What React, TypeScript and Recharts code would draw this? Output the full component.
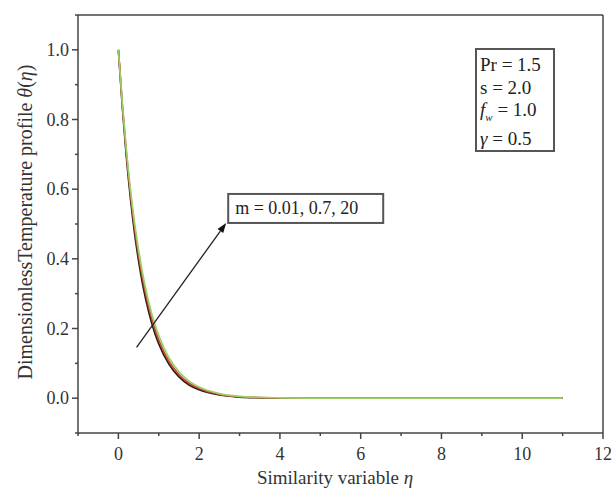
import { LineChart, Line, XAxis, YAxis, ReferenceLine, ReferenceDot } from "recharts";

// similarity variable eta and temperature profiles for m = 0.01, 0.7, 20
const ETA = [0, 0.1, 0.2, 0.3, 0.4, 0.5, 0.6, 0.75, 0.9, 1.0, 1.25, 1.5, 1.75, 2.0, 2.5, 3.0, 3.5, 4.0, 5, 6, 7, 8, 9, 10, 11];
const THETA_M001 = [1, 0.832, 0.69, 0.572, 0.474, 0.394, 0.327, 0.248, 0.187, 0.156, 0.098, 0.061, 0.038, 0.024, 0.009, 0.003, 0.001, 0, 0, 0, 0, 0, 0, 0, 0];
const THETA_M07 = [1, 0.838, 0.7, 0.586, 0.49, 0.41, 0.343, 0.262, 0.2, 0.167, 0.106, 0.068, 0.043, 0.028, 0.011, 0.004, 0.0015, 0.0005, 0, 0, 0, 0, 0, 0, 0];
const THETA_M20 = [1, 0.844, 0.71, 0.598, 0.504, 0.425, 0.358, 0.276, 0.213, 0.18, 0.116, 0.076, 0.049, 0.032, 0.013, 0.005, 0.002, 0.001, 0, 0, 0, 0, 0, 0, 0];

const X_TICKS = [-1, 0, 1, 2, 3, 4, 5, 6, 7, 8, 9, 10, 11, 12];
const Y_TICKS = [-0.1, 0, 0.1, 0.2, 0.3, 0.4, 0.5, 0.6, 0.7, 0.8, 0.9, 1.0, 1.1];

const ARROW_FROM = { x: 0.45, y: 0.146 };
const ARROW_TO = { x: 2.67, y: 0.503 };

const data = ETA.map((eta, i) => ({
  eta,
  a: THETA_M001[i],
  b: THETA_M07[i],
  c: THETA_M20[i],
}));

const FONT = "'Liberation Serif', 'Times New Roman', serif";
const AXIS = "#444";

const XTick = (props: any) => {
  const { x, y, payload } = props;
  const v = payload.value;
  const major = v % 2 === 0;
  return (
    <g>
      <line x1={x} y1={y} x2={x} y2={y + (major ? 6 : 3)} stroke={AXIS} strokeWidth={1.5} />
      {major && v >= 0 && (
        <text x={x} y={y + 27} textAnchor="middle" fontSize={18} style={{ fontFamily: FONT }} fill="#333">
          {v}
        </text>
      )}
    </g>
  );
};

const YTick = (props: any) => {
  const { x, y, payload } = props;
  const v = Math.round(payload.value * 10);
  const major = v % 2 === 0;
  return (
    <g>
      <line x1={x - (major ? 6 : 3)} y1={y} x2={x} y2={y} stroke={AXIS} strokeWidth={1.5} />
      {major && v >= 0 && v <= 10 && (
        <text x={x - 9} y={y + 6} textAnchor="end" fontSize={18} style={{ fontFamily: FONT }} fill="#333">
          {(v / 10).toFixed(1)}
        </text>
      )}
    </g>
  );
};

const Arrow = (props: any) => {
  const { x1, y1, x2, y2 } = props;
  const ang = Math.atan2(y2 - y1, x2 - x1);
  const len = 10;
  const w = 3.5;
  const bx = x2 - len * Math.cos(ang);
  const by = y2 - len * Math.sin(ang);
  const px = -Math.sin(ang) * w;
  const py = Math.cos(ang) * w;
  return (
    <g>
      <line x1={x1} y1={y1} x2={bx} y2={by} stroke="#222" strokeWidth={1.3} />
      <polygon points={`${x2},${y2} ${bx + px},${by + py} ${bx - px},${by - py}`} fill="#111" />
    </g>
  );
};

const MBox = (props: any) => {
  const { cx, cy } = props;
  return (
    <g>
      <rect x={cx + 2} y={cy - 29} width={155} height={29} fill="#fff" stroke="#555" strokeWidth={2} />
      <text x={cx + 9} y={cy - 9} fontSize={18} style={{ fontFamily: FONT }} fill="#222">
        m = 0.01, 0.7, 20
      </text>
    </g>
  );
};

export default function App() {
  return (
    <div style={{ position: "absolute", left: 0, top: 0, width: 613, height: 488, background: "#fff" }}>
      <LineChart width={613} height={488} data={data} margin={{ top: 15, right: 10, bottom: 0, left: 18 }}>
        <XAxis
          dataKey="eta"
          type="number"
          domain={[-1, 12]}
          ticks={X_TICKS}
          interval={0}
          height={55}
          tickSize={0}
          tickMargin={0}
          tick={<XTick />}
          axisLine={{ stroke: AXIS, strokeWidth: 1.5 }}
          tickLine={false}
        />
        <YAxis
          type="number"
          domain={[-0.1, 1.1]}
          ticks={Y_TICKS}
          interval={0}
          width={60}
          tickSize={0}
          tickMargin={0}
          tick={<YTick />}
          axisLine={{ stroke: AXIS, strokeWidth: 1.5 }}
          tickLine={false}
          allowDataOverflow
        />
        <ReferenceLine y={1.1} stroke={AXIS} strokeWidth={1.5} />
        <ReferenceLine x={12} stroke={AXIS} strokeWidth={1.5} />
        <Line type="monotone" dataKey="a" stroke="#2b1a12" strokeWidth={1.7} dot={false} isAnimationActive={false} />
        <Line type="monotone" dataKey="b" stroke="#c8453a" strokeWidth={1.7} dot={false} isAnimationActive={false} />
        <Line type="monotone" dataKey="c" stroke="#9ad066" strokeWidth={1.7} dot={false} isAnimationActive={false} />
        <ReferenceLine
          segment={[ARROW_FROM, ARROW_TO]}
          shape={<Arrow />}
          ifOverflow="visible"
        />
        <ReferenceDot x={ARROW_TO.x} y={ARROW_TO.y} r={0} shape={<MBox />} ifOverflow="visible" />
        <text
          x={25}
          y={222}
          transform="rotate(-90 25 222)"
          textAnchor="middle"
          dominantBaseline="central"
          fontSize={20}
          style={{ fontFamily: FONT }}
          fill="#333"
        >
          DimensionlessTemperature profile <tspan fontStyle="italic">θ</tspan>(<tspan fontStyle="italic">η</tspan>)
        </text>
        <text x={335} y={484} textAnchor="middle" fontSize={19} style={{ fontFamily: FONT }} fill="#333">
          Similarity variable <tspan fontStyle="italic">η</tspan>
        </text>
      </LineChart>
      <div
        style={{
          position: "absolute",
          left: 475,
          top: 48,
          width: 73,
          height: 96,
          border: "2px solid #555",
          fontFamily: FONT,
          fontSize: 19,
          lineHeight: "22.5px",
          color: "#222",
          paddingLeft: 3,
          boxSizing: "content-box",
          paddingTop: 4,
          background: "#fff",
        }}
      >
        <div>Pr = 1.5</div>
        <div>s = 2.0</div>
        <div>
          <i>f</i>
          <sub style={{ fontSize: 11, fontStyle: "italic" }}>w</sub> = 1.0
        </div>
        <div>
          <i>γ</i> = 0.5
        </div>
      </div>
    </div>
  );
}
